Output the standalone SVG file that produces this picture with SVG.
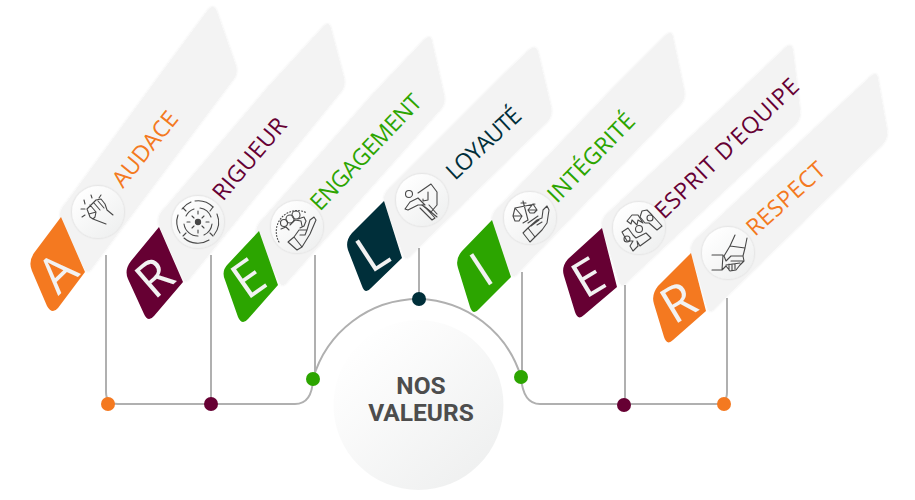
<svg xmlns="http://www.w3.org/2000/svg" width="915" height="500" viewBox="0 0 915 500">
<style>
.card{fill:#f3f3f3;filter:url(#cs)}
.orange{fill:#f47920}.maroon{fill:#660033}.green{fill:#2ca500}.dark{fill:#002f3a}
.disc{fill:url(#dg);filter:url(#ds)}
.ic{fill:none;stroke:#484848;stroke-width:1.1;stroke-linecap:round;stroke-linejoin:round}
.lt{font:23px "Open Sans","Liberation Sans",sans-serif}
.big{font:500 50px "Open Sans","Liberation Sans",sans-serif;fill:#f2f2f2;text-anchor:middle}
.wire{fill:none;stroke:#b0b0b0;stroke-width:2}
.ct{font:bold 24.500px Roboto,"Liberation Sans",sans-serif;fill:#4d4d4d;text-anchor:middle}
</style>
<defs>
<linearGradient id="dg" x1="0.15" y1="0.1" x2="0.85" y2="0.9"><stop offset="0" stop-color="#fff"/><stop offset="1" stop-color="#eff0f0"/></linearGradient>
<filter id="cs" x="-10%" y="-10%" width="120%" height="120%"><feDropShadow dx="0" dy="0" stdDeviation="1" flood-color="#000" flood-opacity=".1"/></filter>
<filter id="ds" x="-15%" y="-15%" width="130%" height="130%"><feDropShadow dx="0" dy="0" stdDeviation="1" flood-color="#000" flood-opacity=".16"/></filter>
</defs>
<g id="connectors">
<path class="wire" d="M106,255V392Q106,404 118,404H295Q312,404 313,379A110,110 0 0 1 419,299A110,110 0 0 1 521,377Q523,404 540,404H716Q727,404 727,392V298"/>
<path class="wire" d="M211,255V404M315,255V372M419,248V299M522,272V377M625,285V404"/>
<circle cx="108" cy="404" r="7" class="orange"/><circle cx="211" cy="404" r="7" class="maroon"/><circle cx="313" cy="379" r="7" class="green"/><circle cx="419" cy="299" r="7" class="dark"/><circle cx="521" cy="377" r="7" class="green"/><circle cx="624" cy="405" r="7" class="maroon"/><circle cx="724" cy="404" r="7" class="orange"/>
</g>
<g id="center"><circle cx="418.500" cy="405" r="85" fill="url(#dg)"/><text class="ct" x="421" y="394">NOS</text><text class="ct" x="421" y="421">VALEURS</text></g>

<g id="audace">
<path class="card" d="M66,203L162,72L208,10Q214,3 217,12L236,66Q238,74 233,80L92,268Q87,275 84,268L62,222Q57,212 66,203Z"/>
<path class="orange" d="M61,217L85,272L58,308Q52,315 47,306L32,271Q28,262 34,253Z"/>
<text class="big" transform="translate(57,272) rotate(-44)" y="18">A</text>
<circle class="disc" cx="98" cy="212" r="26"/>
<g class="ic" transform="translate(98,212)"><path d="M-11,-3L-2,-12L3,-13L7,-8L9,-2L15,3M-8,-7L-2,0M-4,-9L2,-2M0,-11L6,-4M-11,-3L-8,5L-5,7L8,12M-9,2L-2,0L-3,5L-5,7M-17,-3H-13M-16,5L-13,3M-14,-12L-13,-8M-7,-17L-6,-14M3,-17L1,-14"/></g>
<text class="lt orange" transform="translate(123,189) rotate(-51)" textLength="90">AUDACE</text>
</g>

<g id="rigueur">
<path class="card" d="M165,208L268,87L323,27Q329,20 331,29L344,78Q346,87 340,93L190,278Q185,285 182,277L160,228Q155,217 165,208Z"/>
<path class="maroon" d="M159,227L183,282L154,316Q148,323 144,314L128,279Q124,270 131,261Z"/>
<text class="big" transform="translate(154,277) rotate(-41)" y="18">R</text>
<circle class="disc" cx="198" cy="222" r="26"/>
<g class="ic" transform="translate(198,222)"><path d="M-3,-21A21,21 0 0 1 15,-15M19,-8A21,21 0 0 1 16,13M11,18A21,21 0 0 1 -14,16M-18,11A21,21 0 0 1 -20,-7M-16,-13A21,21 0 0 1 -7,-20"/><path d="M-12,-6A14,14 0 0 1 -4,-13M2,-14A14,14 0 0 1 13,-5M14,2A14,14 0 0 1 6,13M0,14A14,14 0 0 1 -14,2"/><path d="M-15,-14L-12,-11M15,-15L12,-11M15,14L12,11M-15,14L-12,11M-6,-6L-4,-4M6,-6L4,-4M6,6L4,4M-6,6L-4,4M0,-11V-8M0,11V8M-11,0H-8M11,0H8"/><circle r="2.6" fill="#484848"/></g>
<text class="lt maroon" transform="translate(223,202) rotate(-49.500)" textLength="100">RIGUEUR</text>
</g>

<g id="engagement">
<path class="card" d="M263,219L372,95L424,40Q431,33 432,42L444,95Q446,104 440,110L287,282Q282,289 279,281L258,238Q253,228 263,219Z"/>
<path class="green" d="M259,231L278,285L248,319Q242,326 238,317L225,280Q221,271 228,264Z"/>
<text class="big" transform="translate(248,278) rotate(-35)" y="18">E</text>
<circle class="disc" cx="297" cy="227" r="26"/>
<g class="ic" transform="translate(297,227)"><circle cx="-13" cy="-4" r="3.5"/><circle cx="-7" cy="-8" r="4"/><circle cx="-1" cy="-12" r="4"/><path d="M-16,2L-11,0L-8,3M-7,-2L-2,-7L4,-6L5,-1M1,-8L7,-10L9,-6L7,-1L3,1"/><path d="M-9,15L-3,10L5,20L0,23ZM-3,10L2,3H10L8,8H3M5,20L13,7L19,-7L17,-10L13,-7L10,3"/><path d="M-18,15A21,21 0 0 1 10,-14" stroke-dasharray="1 2"/></g>
<text class="lt green" transform="translate(320,212) rotate(-46.500)" textLength="150">ENGAGEMENT</text>
</g>

<g id="loyaute">
<path class="card" d="M391,187L505,73L529,50Q536,44 538,52L551,107Q553,116 547,122L411,255Q406,262 403,254L385,205Q381,195 391,187Z"/>
<path class="dark" d="M384,201L402,258L371,288Q365,295 362,286L348,250Q345,241 352,233Z"/>
<text class="big" transform="translate(372,252) rotate(-33)" y="18">L</text>
<circle class="disc" cx="422" cy="200" r="26"/>
<g class="ic" transform="translate(422,200)"><circle cx="-13" cy="-6" r="3.5"/><path d="M-4,-7L9,-16L15,-8V5L9,12L0,5M6,-8V0L1,1V-1"/><path d="M-12,2L-4,-2L3,5L-4,5L-14,10L-17,9L-12,2M-2,8L10,20L13,18L3,7M3,7L15,17M7,5L15,14"/></g>
<text class="lt dark" transform="translate(455,181) rotate(-43)" textLength="93">LOYAUTÉ</text>
</g>

<g id="integrite">
<path class="card" d="M499,207L612,89L665,36Q672,29 673,38L684,90Q686,99 680,105L518,273Q513,280 510,272L493,226Q489,215 499,207Z"/>
<path class="green" d="M492,220L511,277L479,309Q473,316 470,307L458,268Q455,259 462,251Z"/>
<text class="big" transform="translate(481,269) rotate(-33)" y="18">I</text>
<circle class="disc" cx="530" cy="218" r="26"/>
<g class="ic" transform="translate(530,218)"><path d="M-15,-10L5,-14M-7,-17L-2,2M-15,-10L-17,-2H-8L-11,3H-15L-17,-2M-15,-10L-8,-2M3,-14L-2,-8H7L4,-5H0L-2,-8M3,-14L7,-8M-9,-15H-4M-7,5L-2,2"/><path d="M-7,15L-2,10L5,19L0,24ZM-2,10L7,2L12,0L13,-8L17,-12L19,-8L17,5L12,12L5,19M7,7L12,4M-2,5L8,-2M1,8L9,2"/></g>
<text class="lt green" transform="translate(557,204) rotate(-45.700)" textLength="114">INTÉGRITÉ</text>
</g>

<g id="esprit">
<path class="card" d="M609,212L727,103L785,48Q792,42 793,51L800,110Q801,119 795,125L627,282Q622,289 619,281L603,231Q599,220 609,212Z"/>
<path class="maroon" d="M602,228L617,287L584,315Q578,321 575,312L564,276Q561,267 568,259Z"/>
<text class="big" transform="translate(588,277) rotate(-31)" y="18">E</text>
<circle class="disc" cx="639" cy="228" r="26"/>
<g class="ic" transform="translate(639,228)"><circle cx="-12" cy="11" r="3"/><circle cx="0" cy="1" r="3.500"/><circle cx="11" cy="-10" r="3"/><path d="M-17,4L-11,0L-6,7L-3,10L7,5L12,10L1,18L-2,13L-1,18L-6,23L-9,18L-6,13H-12L-17,4"/><path d="M-12,-7L-7,-13H-1L4,-5L-1,-8L-2,-3L-7,-8L-8,-4Z"/><path d="M3,-17L8,-18L13,-13L23,-2L18,2L10,-5L6,-5L1,-11Z"/></g>
<text class="lt maroon" transform="translate(664,220) rotate(-44)" textLength="190">ESPRIT D’EQUIPE</text>
</g>

<g id="respect">
<path class="card" d="M698,237L815,128L870,77Q877,70 878,79L887,130Q888,139 882,145L715,308Q710,315 707,307L692,256Q688,245 698,237Z"/>
<path class="orange" d="M691,253L706,311L673,340Q667,346 664,337L654,304Q651,295 658,286Z"/>
<text class="big" transform="translate(678,302) rotate(-31)" y="18">R</text>
<circle class="disc" cx="728" cy="253" r="26"/>
<g class="ic" transform="translate(728,253)"><path d="M-16,2H-5L-6,17H-16M7,-18L2,-7L17,-5L19,-15M2,-7L-4,3L-2,8L3,3H15L17,-5M15,3L16,8L12,12L8,17L2,18L-2,13L-6,17M-2,12L12,10M1,11V17M4,11V17M7,11V16M3,8H15"/></g>
<text class="lt orange" transform="translate(755,237) rotate(-42)" textLength="97">RESPECT</text>
</g>
</svg>
